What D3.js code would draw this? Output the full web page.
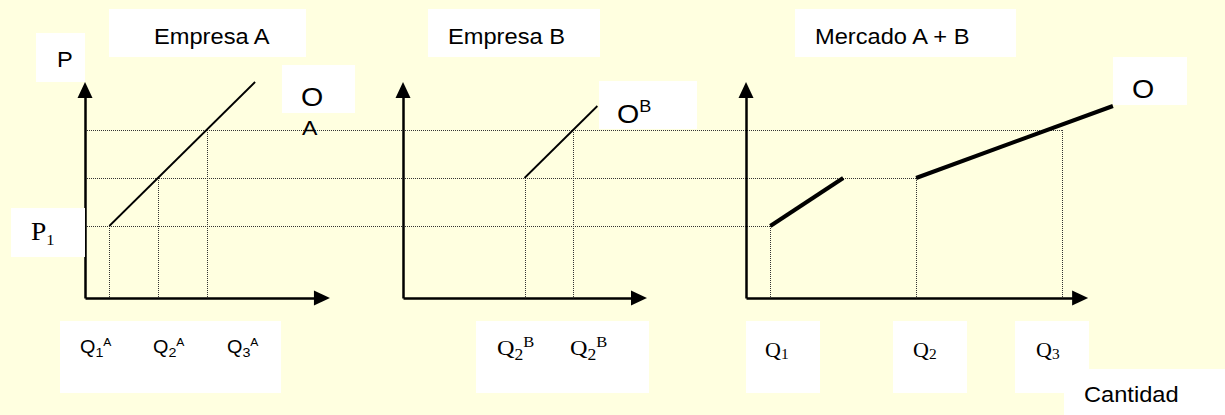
<!DOCTYPE html>
<html>
<head>
<meta charset="utf-8">
<script src="https://cdn.jsdelivr.net/npm/d3@7"></script>
<style>
  body { margin: 0; background: #ffffe0; }
  svg { display: block; }
</style>
</head>
<body>
<svg id="chart" width="1225" height="415"></svg>
<script>
// price levels P1, P2, P3 (same for every panel)
var priceLevels = [1.5, 2.5, 3.5];
// quantities supplied at each price level
var qFirmA = [0.5, 1.5, 2.5];
var qFirmB = [null, 2.5, 3.5];
var qMarket = [0.5, 3.5, 6.5];
// supply curves, [q, p]
var supplyA = [[0.5, 1.5], [3.5, 4.5]];
var supplyB = [[2.5, 2.5], [4.0, 4.0]];
var marketLow = [[0.5, 1.5], [2.0, 2.5]];
var marketHigh = [[3.5, 2.5], [7.55, 4.0]];
// label text
var panelTitles = ['Empresa A', 'Empresa B', 'Mercado A + B'];
var qLabelsA = [['Q', '1', 'A'], ['Q', '2', 'A'], ['Q', '3', 'A']];
var qLabelsB = [['Q', '2', 'B'], ['Q', '2', 'B']];
var qLabelsM = [['Q', '1'], ['Q', '2'], ['Q', '3']];

var svg = d3.select('#chart');
var unitX = 48.6;
var pMax = 4.5;
var sx = 1.1; // source text is a bit wide

var y = d3.scaleLinear().domain([0, pMax]).range([298, 82]);

var makeX = function(x0, qMax){
	return d3.scaleLinear().domain([0, qMax]).range([x0, x0 + qMax * unitX]);
};
var xA = makeX(85, 5.04);
var xB = makeX(403, 5.02);
var xM = makeX(746, 7.04);

var line = function(xs){
	return d3.line().x(function(d){return xs(d[0])}).y(function(d){return y(d[1])});
};

// dotted guides
var guides = svg.append('g')
	.attr('stroke', '#333')
	.attr('stroke-width', 1)
	.attr('stroke-dasharray', '1,1')
	.attr('fill', 'none');

priceLevels.forEach(function(p, i){
	guides.append('line')
		.attr('x1', xA(0)).attr('x2', xM(qMarket[i]))
		.attr('y1', y(p) + 0.5).attr('y2', y(p) + 0.5);
});

var drops = function(xs, qs){
	qs.forEach(function(q, i){
		if (q == null) return;
		guides.append('line')
			.attr('x1', Math.round(xs(q)) + 0.5).attr('x2', Math.round(xs(q)) + 0.5)
			.attr('y1', y(priceLevels[i])).attr('y2', y(0));
	});
};
drops(xA, qFirmA);
drops(xB, qFirmB);
drops(xM, qMarket);

// supply curves
var curves = [
	{ xs: xA, pts: supplyA, w: 1.8 },
	{ xs: xB, pts: supplyB, w: 1.8 },
	{ xs: xM, pts: marketLow, w: 4 },
	{ xs: xM, pts: marketHigh, w: 4 }
];
curves.forEach(function(c){
	svg.append('path')
		.attr('d', line(c.xs)(c.pts))
		.attr('fill', 'none')
		.attr('stroke', '#000')
		.attr('stroke-width', c.w);
});

// axes with arrow heads
var drawAxes = function(xs){
	var qMax = xs.domain()[1];
	var yAxisScale = y.copy().domain([0, pMax - 0.25]).range([y(0), y(pMax - 0.25)]);
	var xAxisScale = xs.copy().domain([0, qMax - 0.25]).range([xs(0), xs(qMax - 0.25)]);
	var ga = svg.append('g').attr('transform', 'translate(' + xs(0) + ',0)')
		.call(d3.axisLeft(yAxisScale).tickValues([]).tickSizeOuter(0));
	var gb = svg.append('g').attr('transform', 'translate(0,' + y(0) + ')')
		.call(d3.axisBottom(xAxisScale).tickValues([]).tickSizeOuter(0));
	[ga, gb].forEach(function(g){
		g.select('.domain').attr('stroke', '#000').attr('stroke-width', 2.5);
	});
	var tipY = y(pMax), x0 = xs(0), y0 = y(0), tipX = xs(qMax);
	svg.append('path')
		.attr('d', 'M' + x0 + ',' + tipY + 'L' + (x0 - 7.5) + ',' + (tipY + 16) + 'L' + (x0 + 7.5) + ',' + (tipY + 16) + 'Z')
		.attr('fill', '#000');
	svg.append('path')
		.attr('d', 'M' + tipX + ',' + y0 + 'L' + (tipX - 16) + ',' + (y0 - 7.5) + 'L' + (tipX - 16) + ',' + (y0 + 7.5) + 'Z')
		.attr('fill', '#000');
};
drawAxes(xA);
drawAxes(xB);
drawAxes(xM);

// white label boxes
var boxes = [
	[36, 33, 49, 49], [109, 9, 197, 48], [282, 65, 73, 48], [11, 208, 74, 49], [60, 321, 221, 72],
	[428, 9, 172, 48], [599, 81, 98, 48], [476, 321, 173, 72],
	[795, 9, 221, 48], [1113, 57, 74, 48], [746, 321, 74, 72], [893, 321, 74, 72],
	[1015, 321, 74, 72], [1064, 369, 161, 46]
];
svg.append('g').selectAll('rect').data(boxes).enter()
	.append('rect')
	.attr('x', function(d){return d[0]})
	.attr('y', function(d){return d[1]})
	.attr('width', function(d){return d[2]})
	.attr('height', function(d){return d[3]})
	.attr('fill', '#fff');

var sans = 'Arial, "Liberation Sans", sans-serif';
var serif = '"Times New Roman", "Liberation Serif", serif';

var text = function(x, yb, str, size, family){
	return svg.append('text')
		.attr('transform', 'translate(' + x + ',' + yb + ') scale(' + sx + ',1)')
		.attr('font-family', family || sans)
		.attr('font-size', size)
		.attr('fill', '#000')
		.text(str);
};

// Q-style label: main letter, subscript, optional superscript
var qLabel = function(x, yb, parts, o){
	var t = svg.append('text')
		.attr('transform', 'translate(' + x + ',' + yb + ') scale(' + sx + ',1)')
		.attr('font-family', o.family)
		.attr('fill', '#000');
	t.append('tspan').attr('font-size', o.size).text(parts[0]);
	t.append('tspan').attr('font-size', o.subSize).attr('dy', o.subDy).text(parts[1]);
	if (parts[2]) t.append('tspan').attr('font-size', o.supSize).attr('dy', o.supDy).text(parts[2]);
};

text(57, 67, 'P', 21.5);
text(154, 44, panelTitles[0], 21.5);
text(448, 43.5, panelTitles[1], 21.5);
text(815, 43.5, panelTitles[2], 21.5);
text(301, 106, 'O', 26);
text(302, 135, 'A', 21);
text(1132, 98, 'O', 26);
text(1084, 402, 'Cantidad', 21.5);

var ob = svg.append('text')
	.attr('transform', 'translate(617,123) scale(' + sx + ',1)')
	.attr('font-family', sans);
ob.append('tspan').attr('font-size', 26).text('O');
ob.append('tspan').attr('font-size', 16.5).attr('dy', -11).text('B');

qLabel(31, 239.5, ['P', '1'], { family: serif, size: 25, subSize: 15, subDy: 5.5 });

var posA = [80, 153, 227];
qLabelsA.forEach(function(l, i){
	qLabel(posA[i], 353, l, { family: sans, size: 18, subSize: 13, subDy: 4, supSize: 11, supDy: -11 });
});
var posB = [497, 570];
qLabelsB.forEach(function(l, i){
	qLabel(posB[i], 355, l, { family: serif, size: 22, subSize: 16, subDy: 5, supSize: 15, supDy: -13 });
});
var posM = [765, 913, 1036];
qLabelsM.forEach(function(l, i){
	qLabel(posM[i], 357, l, { family: serif, size: 20, subSize: 14, subDy: 2 });
});
</script>
</body>
</html>
